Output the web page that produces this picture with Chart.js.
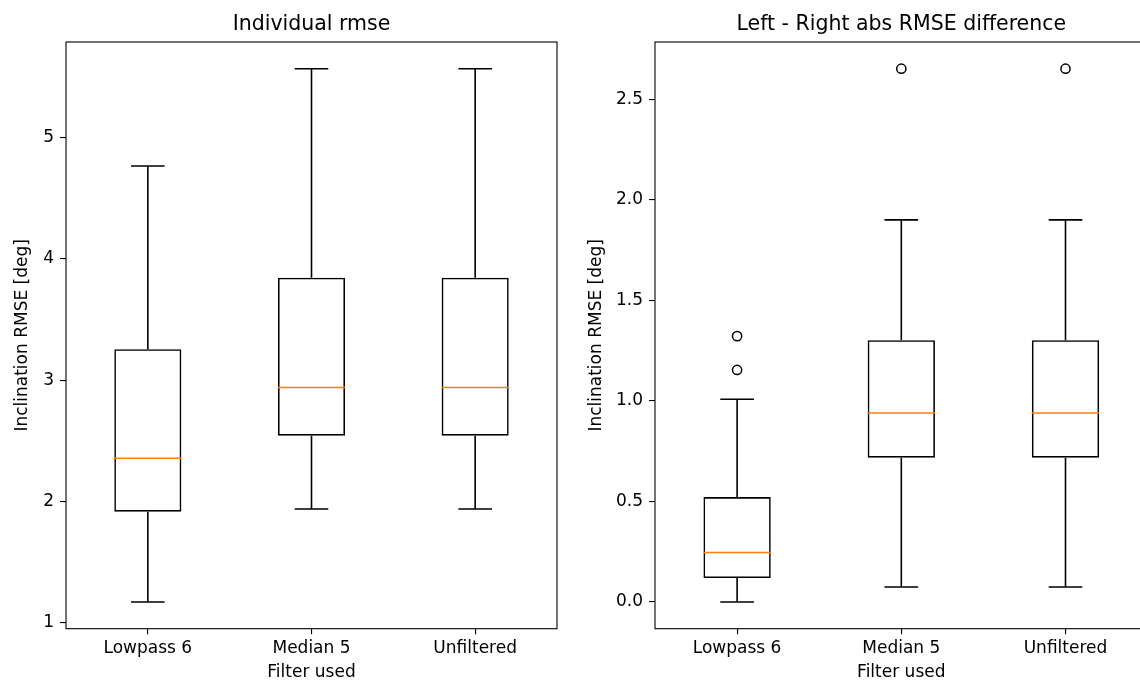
<!DOCTYPE html>
<html>
<head>
<meta charset="utf-8">
<script src="https://cdn.jsdelivr.net/npm/chart.js@4.4.1/dist/chart.umd.min.js"></script>
<style>
  html, body { margin: 0; padding: 0; background: #fff; overflow: hidden; }
  #wrap { position: relative; width: 1140px; height: 684px; overflow: hidden; background: #fff; }
  #c1 { position: absolute; left: 0; top: 0; }
  #c2 { position: absolute; left: 570px; top: 0; }
</style>
</head>
<body>
<div id="wrap">
  <canvas id="c1" width="570" height="684"></canvas>
  <canvas id="c2" width="600" height="684"></canvas>
</div>
<script>
// ---------- data ----------
const categories = ['Lowpass 6', 'Median 5', 'Unfiltered'];

// Left panel: Individual rmse
const rmseMin    = [1.173, 1.939, 1.939];
const rmseQ1     = [1.917, 2.543, 2.543];
const rmseMedian = [2.357, 2.940, 2.940];
const rmseQ3     = [3.255, 3.844, 3.844];
const rmseMax    = [4.764, 5.565, 5.565];
const rmseOutliers = [[], [], []];
const rmseTicks = [1, 2, 3, 4, 5];
const rmseTickLabels = ['1', '2', '3', '4', '5'];
const rmseRange = [0.953, 5.785];

// Right panel: Left - Right abs RMSE difference
const diffMin    = [0.000, 0.075, 0.075];
const diffQ1     = [0.119, 0.718, 0.718];
const diffMedian = [0.246, 0.940, 0.940];
const diffQ3     = [0.522, 1.302, 1.302];
const diffMax    = [1.008, 1.900, 1.900];
const diffOutliers = [[1.154, 1.322], [2.652], [2.652]];
const diffTicks = [0.0, 0.5, 1.0, 1.5, 2.0, 2.5];
const diffTickLabels = ['0.0', '0.5', '1.0', '1.5', '2.0', '2.5'];
const diffRange = [-0.1326, 2.7846];

// ---------- helpers ----------
const FONT = 'DejaVu Sans';

const boxPlugin = {
  id: 'boxWhiskers',
  afterDatasetsDraw(chart, args, opts) {
    const ctx = chart.ctx;
    const meta = chart.getDatasetMeta(0);
    const y = chart.scales.y;
    ctx.save();
    meta.data.forEach((bar, i) => {
      const x = bar.x;
      const hw = bar.width / 2;
      const cw = hw / 2;
      ctx.lineWidth = 1.6;
      ctx.strokeStyle = '#000';
      ctx.beginPath();
      // whiskers
      ctx.moveTo(x, y.getPixelForValue(opts.q3[i]));
      ctx.lineTo(x, y.getPixelForValue(opts.max[i]));
      ctx.moveTo(x, y.getPixelForValue(opts.q1[i]));
      ctx.lineTo(x, y.getPixelForValue(opts.min[i]));
      // caps
      ctx.moveTo(x - cw, y.getPixelForValue(opts.max[i]));
      ctx.lineTo(x + cw, y.getPixelForValue(opts.max[i]));
      ctx.moveTo(x - cw, y.getPixelForValue(opts.min[i]));
      ctx.lineTo(x + cw, y.getPixelForValue(opts.min[i]));
      ctx.stroke();
      // median
      ctx.strokeStyle = '#ff7f0e';
      ctx.beginPath();
      ctx.moveTo(x - hw, y.getPixelForValue(opts.med[i]));
      ctx.lineTo(x + hw, y.getPixelForValue(opts.med[i]));
      ctx.stroke();
    });
    ctx.restore();
  },
  afterDraw(chart) {
    const a = chart.chartArea;
    const ctx = chart.ctx;
    ctx.save();
    ctx.strokeStyle = '#000';
    ctx.lineWidth = 1.1;
    ctx.strokeRect(a.left, a.top, a.right - a.left, a.bottom - a.top);
    ctx.restore();
  }
};

function makeChart(id, p) {
  const boxData = categories.map((c, i) => [p.q1[i], p.q3[i]]);
  const outlierData = [];
  categories.forEach((c, i) => p.out[i].forEach(v => outlierData.push({ x: c, y: v })));
  return new Chart(document.getElementById(id), {
    type: 'bar',
    data: {
      labels: categories,
      datasets: [
        {
          type: 'bar',
          data: boxData,
          backgroundColor: 'rgba(0,0,0,0)',
          borderColor: '#000',
          borderWidth: 1.6,
          borderSkipped: false,
          barPercentage: 0.41,
          categoryPercentage: 1.0
        },
        {
          type: 'line',
          data: outlierData,
          showLine: false,
          pointRadius: 4.6,
          pointBorderWidth: 1.5,
          pointBackgroundColor: 'rgba(0,0,0,0)',
          pointBorderColor: '#000'
        }
      ]
    },
    options: {
      responsive: false,
      animation: false,
      layout: { padding: { left: 0, right: p.padRight, top: 0, bottom: 0 } },
      plugins: {
        legend: { display: false },
        tooltip: { enabled: false },
        title: {
          display: true,
          text: p.title,
          fullSize: false,
          color: '#000',
          font: { family: FONT, size: 20.5, weight: 'normal' },
          padding: { top: 12, bottom: 5.4 }
        },
        boxWhiskers: { min: p.min, q1: p.q1, med: p.med, q3: p.q3, max: p.max }
      },
      scales: {
        x: {
          type: 'category',
          offset: true,
          grid: { offset: false, drawOnChartArea: false, drawTicks: true, tickLength: 5.5, color: '#000', lineWidth: 1.1 },
          border: { display: false },
          ticks: { color: '#000', font: { family: FONT, size: 17 }, padding: 4.5, maxRotation: 0 },
          title: { display: true, text: 'Filter used', color: '#000', font: { family: FONT, size: 17 }, padding: { top: 0, bottom: 1 } },
          afterFit: s => { s.height = 55.3; }
        },
        y: {
          type: 'linear',
          min: p.range[0],
          max: p.range[1],
          grid: { drawOnChartArea: false, drawTicks: true, tickLength: 6, color: '#000', lineWidth: 1.1 },
          border: { display: false },
          afterBuildTicks: s => { s.ticks = p.ticks.map(v => ({ value: v })); },
          ticks: {
            color: '#000',
            font: { family: FONT, size: 17 },
            padding: 6,
            callback: (v, i) => p.tickLabels[i]
          },
          title: { display: true, text: 'Inclination RMSE [deg]', color: '#000', font: { family: FONT, size: 17 }, padding: { top: p.ytPad, bottom: 0 } },
          afterFit: s => { s.width = p.yWidth; }
        }
      }
    },
    plugins: [boxPlugin]
  });
}

makeChart('c1', {
  title: 'Individual rmse',
  min: rmseMin, q1: rmseQ1, med: rmseMedian, q3: rmseQ3, max: rmseMax, out: rmseOutliers,
  ticks: rmseTicks, tickLabels: rmseTickLabels, range: rmseRange,
  yWidth: 66, padRight: 13, ytPad: 12.8
});

makeChart('c2', {
  title: 'Left - Right abs RMSE difference',
  min: diffMin, q1: diffQ1, med: diffMedian, q3: diffQ3, max: diffMax, out: diffOutliers,
  ticks: diffTicks, tickLabels: diffTickLabels, range: diffRange,
  yWidth: 85, padRight: 22.4, ytPad: 16.8
});
</script>
</body>
</html>
